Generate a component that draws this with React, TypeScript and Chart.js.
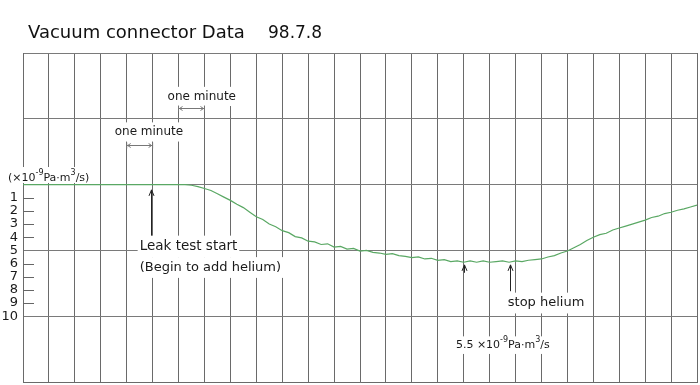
import { useEffect, useRef } from 'react';
import { Chart, registerables } from 'chart.js';
Chart.register(...registerables);

const TITLE = 'Vacuum connector Data';
const DATE_LABEL = '98.7.8';

// time in minutes (one grid column = one minute)
const minutes = [
  0, 6.0, 6.25, 6.5, 6.75, 7.0, 7.25, 7.5, 7.75, 8.0, 8.25, 8.5, 8.75, 9.0, 9.25, 9.5, 9.75,
  10.0, 10.25, 10.5, 10.75, 11.0, 11.25, 11.5, 11.75, 12.0, 12.25, 12.5, 12.75, 13.0, 13.25, 13.5, 13.75,
  14.0, 14.25, 14.5, 14.75, 15.0, 15.25, 15.5, 15.75, 16.0, 16.25, 16.5, 16.75, 17.0, 17.25, 17.5, 17.75,
  18.0, 18.25, 18.5, 18.75, 19.0, 19.25, 19.5, 19.75, 20.0, 20.25, 20.5, 20.75, 21.0, 21.25, 21.5, 21.75,
  22.0, 22.25, 22.5, 22.75, 23.0, 23.25, 23.5, 23.75, 24.0, 24.25, 24.5, 24.75, 25.0, 25.25, 25.5, 25.75, 26.0,
];

// leak rate (x10^-9 Pa·m3/s), axis grows downward
const leakRate = [
  0, 0, 0, 0.05, 0.15, 0.3, 0.45, 0.7, 0.95, 1.2, 1.5, 1.75, 2.1, 2.45, 2.65, 3.0, 3.2,
  3.5, 3.65, 3.95, 4.05, 4.3, 4.35, 4.55, 4.5, 4.75, 4.7, 4.9, 4.85, 5.05, 5.0, 5.15, 5.2,
  5.3, 5.25, 5.4, 5.45, 5.55, 5.5, 5.65, 5.6, 5.75, 5.7, 5.85, 5.8, 5.9, 5.8, 5.9, 5.8,
  5.9, 5.85, 5.8, 5.9, 5.8, 5.85, 5.75, 5.7, 5.65, 5.5, 5.4, 5.2, 5.05, 4.8, 4.55, 4.25,
  4.0, 3.8, 3.7, 3.45, 3.3, 3.15, 3.0, 2.85, 2.7, 2.5, 2.4, 2.2, 2.1, 1.95, 1.85, 1.7, 1.55,
];

const yTickLabels = ['1', '2', '3', '4', '5', '6', '7', '8', '9', '10'];
const minorTickValues = [1, 2, 3, 4, 6, 7, 8, 9];

const ONE_MINUTE = 'one minute';
const LEAK_START_1 = 'Leak test start';
const LEAK_START_2 = '(Begin to add helium)';
const STOP_HELIUM = 'stop helium';

const FONT = '"DejaVu Sans", sans-serif';

type Part = { t: string; sup?: boolean };

function drawRich(ctx: CanvasRenderingContext2D, parts: Part[], x: number, yc: number, size: number, bgUp = 0.8, bgDown = 0.8) {
  const supSize = Math.round(size * 0.72);
  let w = 0;
  const widths = parts.map((p) => {
    ctx.font = `${p.sup ? supSize : size}px ${FONT}`;
    const m = ctx.measureText(p.t).width;
    w += m;
    return m;
  });
  ctx.fillStyle = '#fff';
  ctx.fillRect(x - 2, yc - size * bgUp, w + 4, size * (bgUp + bgDown));
  ctx.fillStyle = '#1a1a1a';
  ctx.textBaseline = 'middle';
  ctx.textAlign = 'left';
  let cx = x;
  parts.forEach((p, i) => {
    ctx.font = `${p.sup ? supSize : size}px ${FONT}`;
    ctx.fillText(p.t, cx, p.sup ? yc - size * 0.45 : yc);
    cx += widths[i];
  });
}

function upArrow(ctx: CanvasRenderingContext2D, x: number, yTop: number, yBottom: number) {
  const xx = Math.round(x) + 0.5;
  ctx.strokeStyle = '#222';
  ctx.lineWidth = 1;
  ctx.beginPath();
  ctx.moveTo(xx, yBottom);
  ctx.lineTo(xx, yTop);
  ctx.moveTo(xx - 2.5, yTop + 6);
  ctx.lineTo(xx, yTop);
  ctx.lineTo(xx + 2.5, yTop + 6);
  ctx.stroke();
}

function spanArrow(ctx: CanvasRenderingContext2D, x1: number, x2: number, y: number) {
  const yy = Math.round(y) + 0.5;
  ctx.strokeStyle = '#777';
  ctx.lineWidth = 1;
  ctx.beginPath();
  ctx.moveTo(x1, yy - 3);
  ctx.lineTo(x1, yy + 3);
  ctx.moveTo(x2, yy - 3);
  ctx.lineTo(x2, yy + 3);
  ctx.moveTo(x1, yy);
  ctx.lineTo(x2, yy);
  ctx.moveTo(x1 + 4, yy - 2);
  ctx.lineTo(x1 + 1, yy);
  ctx.lineTo(x1 + 4, yy + 2);
  ctx.moveTo(x2 - 4, yy - 2);
  ctx.lineTo(x2 - 1, yy);
  ctx.lineTo(x2 - 4, yy + 2);
  ctx.stroke();
}

const annotationPlugin = {
  id: 'annotations',
  afterDraw(chart: any) {
    const { ctx, chartArea, scales } = chart;
    const px = (m: number) => scales.x.getPixelForValue(m);
    const py = (v: number) => scales.y.getPixelForValue(v);
    ctx.save();

    // title
    ctx.fillStyle = '#111';
    ctx.textAlign = 'left';
    ctx.textBaseline = 'alphabetic';
    ctx.font = `18px ${FONT}`;
    ctx.fillText(TITLE, chartArea.left + 5, chartArea.top - 15);
    ctx.font = `17px ${FONT}`;
    ctx.fillText(DATE_LABEL, chartArea.left + 245, chartArea.top - 15);

    // minor ticks
    ctx.strokeStyle = '#666';
    ctx.lineWidth = 1;
    minorTickValues.forEach((v) => {
      const y = Math.round(py(v)) + 0.5;
      ctx.beginPath();
      ctx.moveTo(chartArea.left, y);
      ctx.lineTo(chartArea.left + 11, y);
      ctx.stroke();
    });

    // unit label
    drawRich(ctx, [{ t: '(×10' }, { t: '-9', sup: true }, { t: 'Pa·m' }, { t: '3', sup: true }, { t: '/s)' }],
      8, py(-0.5), 11, 1.0, 0.45);

    // one minute markers
    drawRich(ctx, [{ t: ONE_MINUTE }], px(4) - 12, py(-4), 12);
    spanArrow(ctx, px(4), px(5), py(-3));
    drawRich(ctx, [{ t: ONE_MINUTE }], px(6) - 11, py(-6.7), 12);
    spanArrow(ctx, px(6), px(7), py(-5.8));

    // leak test start
    upArrow(ctx, px(4.95), py(0.4), py(4.2));
    drawRich(ctx, [{ t: LEAK_START_1 }], px(4.5), py(4.7), 13.5);
    drawRich(ctx, [{ t: LEAK_START_2 }], px(4.5), py(6.3), 13);

    // minimum and stop helium
    upArrow(ctx, px(17), py(6.1), py(6.7));
    upArrow(ctx, px(18.8), py(6.1), py(8.1));
    drawRich(ctx, [{ t: STOP_HELIUM }], px(18.7), py(9.0), 13);
    drawRich(ctx, [{ t: '5.5 ×10' }, { t: '-9', sup: true }, { t: 'Pa·m' }, { t: '3', sup: true }, { t: '/s' }],
      px(16.7), py(12.2), 11);

    ctx.restore();
  },
};

export default function App() {
  const ref = useRef<HTMLCanvasElement | null>(null);
  useEffect(() => {
    if (!ref.current) return;
    const chart = new Chart(ref.current, {
      type: 'line',
      data: {
        datasets: [
          {
            data: minutes.map((m, i) => ({ x: m, y: leakRate[i] })),
            borderColor: '#5aa864',
            borderWidth: 1.2,
            pointRadius: 0,
            tension: 0,
          },
        ],
      },
      options: {
        animation: false,
        responsive: true,
        maintainAspectRatio: false,
        layout: { padding: { top: 53, right: 3, bottom: 3, left: 0 } },
        plugins: { legend: { display: false }, tooltip: { enabled: false }, title: { display: false } },
        scales: {
          x: {
            type: 'linear',
            min: 0,
            max: 26,
            ticks: { display: false, stepSize: 1 },
            grid: { color: '#6a6a6a', drawTicks: false, lineWidth: 1 },
            border: { color: '#6a6a6a' },
            afterFit: (s: any) => { s.height = 0; s.paddingLeft = 0; s.paddingRight = 0; },
          },
          y: {
            type: 'linear',
            reverse: true,
            min: -10,
            max: 15,
            ticks: {
              stepSize: 1,
              autoSkip: false,
              padding: 5,
              color: '#1a1a1a',
              font: { family: 'DejaVu Sans', size: 13 },
              callback: (v: any) => (Number.isInteger(v) && v >= 1 && v <= 10 ? yTickLabels[v - 1] : ''),
            },
            grid: {
              drawTicks: false,
              color: (c: any) => (c.tick && c.tick.value % 5 === 0 ? '#7a7a7a' : 'rgba(0,0,0,0)'),
            },
            border: { color: '#6a6a6a' },
            afterFit: (s: any) => { s.width = 23; s.paddingTop = 0; s.paddingBottom = 0; },
          },
        },
      },
      plugins: [annotationPlugin],
    });
    return () => chart.destroy();
  }, []);
  return (
    <div style={{ position: 'fixed', left: 0, top: 0, width: 700, height: 385, background: '#fff' }}>
      <canvas ref={ref} />
    </div>
  );
}
